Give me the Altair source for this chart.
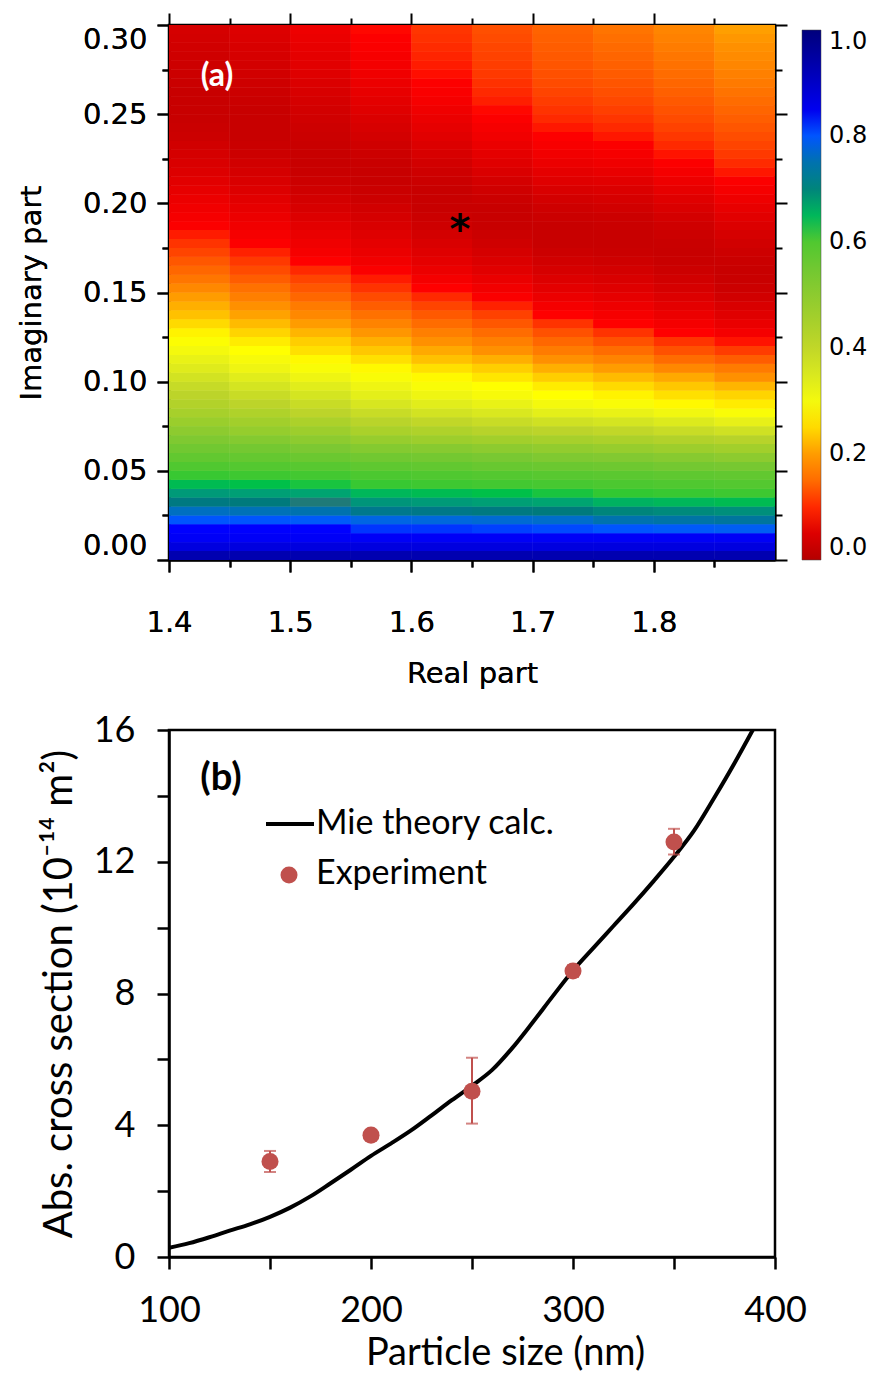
import altair as alt
import pandas as pd

# ---------------- panel (a): absorption map ----------------
real_edges = [1.40, 1.45, 1.50, 1.55, 1.60, 1.65, 1.70, 1.75, 1.80, 1.85, 1.90]
imag_edges = [0.000, 0.005, 0.010, 0.015, 0.020, 0.025, 0.030, 0.035, 0.040, 0.045,
              0.050, 0.055, 0.060, 0.065, 0.070, 0.075, 0.080, 0.085, 0.090, 0.095,
              0.100, 0.105, 0.110, 0.115, 0.120, 0.125, 0.130, 0.135, 0.140, 0.145,
              0.150, 0.155, 0.160, 0.165, 0.170, 0.175, 0.180, 0.185, 0.190, 0.195,
              0.200, 0.205, 0.210, 0.215, 0.220, 0.225, 0.230, 0.235, 0.240, 0.245,
              0.250, 0.255, 0.260, 0.265, 0.270, 0.275, 0.280, 0.285, 0.290, 0.295, 0.300]

# normalised deviation read from the map, one list per real-part column,
# rows from the bottom (k = 0) to the top (k = 0.30) in steps of 0.005
col_140 = [0.93, 0.87, 0.84, 0.83, 0.80, 0.76, 0.72, 0.68, 0.645, 0.625,
           0.60, 0.575, 0.55, 0.525, 0.50, 0.475, 0.45, 0.43, 0.41, 0.39,
           0.365, 0.34, 0.32, 0.30, 0.285, 0.27, 0.25, 0.23, 0.215, 0.20,
           0.18, 0.16, 0.145, 0.13, 0.115, 0.105, 0.095, 0.087, 0.08, 0.074,
           0.068, 0.062, 0.056, 0.05, 0.045, 0.04, 0.035, 0.03, 0.027, 0.025,
           0.024, 0.024, 0.025, 0.027, 0.029, 0.031, 0.033, 0.035, 0.038, 0.04]
col_145 = [0.93, 0.87, 0.84, 0.83, 0.80, 0.755, 0.715, 0.675, 0.64, 0.62,
           0.595, 0.57, 0.545, 0.515, 0.485, 0.46, 0.435, 0.41, 0.385, 0.36,
           0.335, 0.31, 0.295, 0.28, 0.265, 0.245, 0.225, 0.205, 0.19, 0.17,
           0.155, 0.135, 0.12, 0.108, 0.097, 0.088, 0.08, 0.074, 0.068, 0.062,
           0.056, 0.05, 0.045, 0.04, 0.035, 0.03, 0.027, 0.025, 0.024, 0.024,
           0.025, 0.027, 0.029, 0.032, 0.035, 0.038, 0.041, 0.044, 0.047, 0.05]
col_150 = [0.93, 0.87, 0.84, 0.83, 0.795, 0.75, 0.71, 0.67, 0.635, 0.615,
           0.59, 0.56, 0.53, 0.50, 0.47, 0.44, 0.41, 0.385, 0.36, 0.335,
           0.31, 0.29, 0.275, 0.255, 0.24, 0.22, 0.20, 0.18, 0.165, 0.145,
           0.13, 0.115, 0.10, 0.09, 0.08, 0.072, 0.065, 0.057, 0.05, 0.043,
           0.038, 0.033, 0.029, 0.026, 0.025, 0.025, 0.026, 0.028, 0.031, 0.034,
           0.037, 0.04, 0.044, 0.048, 0.052, 0.056, 0.06, 0.063, 0.066, 0.07]
col_155 = [0.93, 0.87, 0.84, 0.82, 0.78, 0.73, 0.685, 0.65, 0.625, 0.605,
           0.58, 0.55, 0.515, 0.48, 0.445, 0.415, 0.385, 0.355, 0.33, 0.31,
           0.29, 0.275, 0.255, 0.235, 0.215, 0.195, 0.175, 0.155, 0.135, 0.12,
           0.105, 0.095, 0.085, 0.075, 0.067, 0.06, 0.052, 0.045, 0.04, 0.035,
           0.03, 0.027, 0.025, 0.025, 0.026, 0.029, 0.033, 0.038, 0.043, 0.048,
           0.053, 0.058, 0.063, 0.068, 0.073, 0.077, 0.081, 0.085, 0.088, 0.091]
col_160 = [0.93, 0.87, 0.84, 0.82, 0.775, 0.725, 0.68, 0.645, 0.62, 0.60,
           0.575, 0.545, 0.51, 0.47, 0.435, 0.40, 0.365, 0.335, 0.31, 0.29,
           0.275, 0.255, 0.23, 0.21, 0.19, 0.17, 0.15, 0.132, 0.115, 0.10,
           0.09, 0.078, 0.068, 0.06, 0.052, 0.045, 0.038, 0.032, 0.028, 0.025,
           0.024, 0.025, 0.028, 0.032, 0.037, 0.043, 0.049, 0.055, 0.061, 0.067,
           0.073, 0.079, 0.084, 0.088, 0.092, 0.095, 0.098, 0.101, 0.104, 0.106]
col_165 = [0.93, 0.87, 0.84, 0.815, 0.77, 0.72, 0.675, 0.64, 0.615, 0.595,
           0.565, 0.535, 0.50, 0.46, 0.42, 0.385, 0.35, 0.32, 0.295, 0.28,
           0.26, 0.24, 0.215, 0.19, 0.17, 0.15, 0.13, 0.113, 0.097, 0.085,
           0.075, 0.065, 0.055, 0.047, 0.04, 0.033, 0.028, 0.025, 0.024, 0.025,
           0.028, 0.033, 0.039, 0.046, 0.053, 0.06, 0.067, 0.074, 0.08, 0.086,
           0.091, 0.096, 0.10, 0.104, 0.108, 0.111, 0.114, 0.117, 0.12, 0.123]
col_170 = [0.93, 0.87, 0.84, 0.81, 0.765, 0.715, 0.67, 0.635, 0.61, 0.59,
           0.56, 0.525, 0.49, 0.45, 0.41, 0.37, 0.33, 0.30, 0.28, 0.265,
           0.24, 0.215, 0.19, 0.165, 0.145, 0.125, 0.105, 0.09, 0.078, 0.068,
           0.058, 0.05, 0.042, 0.035, 0.029, 0.025, 0.024, 0.025, 0.028, 0.032,
           0.038, 0.045, 0.053, 0.06, 0.068, 0.075, 0.082, 0.088, 0.094, 0.10,
           0.105, 0.11, 0.115, 0.12, 0.124, 0.128, 0.132, 0.135, 0.138, 0.141]
col_175 = [0.93, 0.87, 0.84, 0.80, 0.75, 0.70, 0.655, 0.63, 0.605, 0.585,
           0.555, 0.52, 0.48, 0.44, 0.40, 0.36, 0.32, 0.29, 0.27, 0.25,
           0.225, 0.20, 0.175, 0.15, 0.125, 0.105, 0.09, 0.08, 0.07, 0.061,
           0.052, 0.045, 0.038, 0.032, 0.027, 0.025, 0.025, 0.027, 0.03, 0.035,
           0.041, 0.048, 0.056, 0.064, 0.072, 0.08, 0.087, 0.094, 0.10, 0.106,
           0.112, 0.118, 0.123, 0.128, 0.133, 0.138, 0.143, 0.148, 0.153, 0.158]
col_180 = [0.93, 0.87, 0.84, 0.795, 0.745, 0.695, 0.65, 0.625, 0.60, 0.58,
           0.545, 0.51, 0.47, 0.43, 0.385, 0.345, 0.305, 0.275, 0.255, 0.235,
           0.21, 0.18, 0.15, 0.125, 0.105, 0.09, 0.078, 0.068, 0.058, 0.05,
           0.042, 0.036, 0.03, 0.026, 0.025, 0.026, 0.029, 0.033, 0.039, 0.046,
           0.054, 0.062, 0.07, 0.078, 0.086, 0.093, 0.10, 0.107, 0.114, 0.12,
           0.126, 0.132, 0.138, 0.144, 0.150, 0.155, 0.160, 0.166, 0.172, 0.177]
col_185 = [0.93, 0.87, 0.84, 0.79, 0.74, 0.69, 0.645, 0.62, 0.595, 0.575,
           0.54, 0.50, 0.46, 0.42, 0.37, 0.325, 0.29, 0.265, 0.245, 0.22,
           0.19, 0.165, 0.135, 0.11, 0.093, 0.078, 0.065, 0.054, 0.045, 0.036,
           0.03, 0.026, 0.025, 0.027, 0.031, 0.036, 0.042, 0.049, 0.056, 0.063,
           0.071, 0.079, 0.087, 0.094, 0.101, 0.108, 0.115, 0.122, 0.129, 0.136,
           0.143, 0.150, 0.157, 0.164, 0.171, 0.178, 0.184, 0.190, 0.196, 0.202]
map_columns = [col_140, col_145, col_150, col_155, col_160, col_165, col_170, col_175, col_180, col_185]

best_fit_real = [1.64]
best_fit_imag = [0.19]

real_ticks = [1.40, 1.45, 1.50, 1.55, 1.60, 1.65, 1.70, 1.75, 1.80, 1.85]
imag_ticks = [0.0, 0.025, 0.05, 0.075, 0.10, 0.125, 0.15, 0.175, 0.20, 0.225, 0.25, 0.275, 0.30]
cbar_labels = [0.0, 0.2, 0.4, 0.6, 0.8, 1.0]
cmap_stops = [0.0, 0.09, 0.19, 0.28, 0.41, 0.53, 0.63, 0.71, 0.83, 1.0]
cmap_colors = ["#b40000", "#ff0000", "#ff9000", "#ffff00", "#bcd42a", "#7cc832",
               "#32c832", "#1f7a78", "#0000ff", "#00007c"]

# ---------------- panel (b): absorption cross section ----------------
mie_size = [100, 110, 120, 130, 140, 150, 160, 170, 180, 190, 200, 210, 220, 230, 240,
            250, 260, 270, 280, 290, 300, 310, 320, 330, 340, 350, 360, 370, 380, 389]
mie_abs = [0.28, 0.42, 0.60, 0.80, 0.99, 1.22, 1.50, 1.84, 2.24, 2.65, 3.07, 3.45, 3.85, 4.30, 4.76,
           5.20, 5.68, 6.35, 7.12, 7.92, 8.70, 9.38, 10.05, 10.72, 11.42, 12.15, 12.95, 13.95, 15.00, 16.00]
exp_size = [150, 200, 250, 300, 350]
exp_abs = [2.90, 3.70, 5.03, 8.68, 12.60]
exp_lo = [2.58, 3.55, 4.05, 8.50, 12.22]
exp_hi = [3.22, 3.85, 6.05, 8.86, 13.00]
size_ticks = [100, 150, 200, 250, 300, 350, 400]
abs_ticks = [0, 2, 4, 6, 8, 10, 12, 14, 16]

# ---------------- build tables ----------------
cells = []
for i, col in enumerate(map_columns):
    for j, v in enumerate(col):
        cells.append({"x0": real_edges[i], "x1": real_edges[i + 1],
                      "y0": imag_edges[j], "y1": imag_edges[j + 1], "v": v})
map_df = pd.DataFrame(cells)
star_df = pd.DataFrame({"re": best_fit_real, "im": best_fit_imag})
mie_df = pd.DataFrame({"size": mie_size, "abs": mie_abs})
exp_df = pd.DataFrame({"size": exp_size, "abs": exp_abs, "lo": exp_lo, "hi": exp_hi})
one = pd.DataFrame({"k": [0]})

FA = "DejaVu Sans"
FB = "Lato"
RED = "#c0504d"

x_major = "abs(datum.value*10 - round(datum.value*10)) < 0.000001"
y_major = "abs(datum.value*20 - round(datum.value*20)) < 0.000001"


def a_axis(orient, values, major, fmt, labels, title=None):
    kw = dict(orient=orient, values=values, grid=False,
              tickSize={"condition": {"test": major, "value": 12}, "value": 7},
              tickWidth=2, tickColor="black", domainColor="black", domainWidth=2,
              labels=labels, title=title)
    if labels:
        kw.update(labelExpr=f"{major} ? format(datum.value, '{fmt}') : ''",
                  labelFont=FA, labelFontSize=29, labelColor="black",
                  titleFont=FA, titleFontSize=29, titleFontWeight="normal", titleColor="black")
    return alt.Axis(**kw)


ax_bottom = a_axis("bottom", real_ticks, x_major, ".1f", True, "Real part")
ax_bottom["labelPadding"] = 36
ax_bottom["titlePadding"] = 22
ax_bottom["labelFlush"] = False
ax_left = a_axis("left", imag_ticks, y_major, ".2f", True, "Imaginary part")
ax_left["labelPadding"] = 10
ax_left["titlePadding"] = 36
ax_left["labelFlush"] = True
ax_top = a_axis("top", real_ticks, x_major, ".1f", False)
ax_right = a_axis("right", imag_ticks, y_major, ".2f", False)

xs_a = alt.Scale(domain=[1.4, 1.9], nice=False, zero=False)
ys_a = alt.Scale(domain=[0.0, 0.3], nice=False, zero=False)
cscale = alt.Scale(type="linear", domain=cmap_stops, range=cmap_colors)


def cbar():
    return alt.Legend(
        type="gradient", orient="none", legendX=633, legendY=5, direction="vertical",
        gradientLength=530, gradientThickness=19, title=None,
        values=cbar_labels, format=".1f", labelFont=FA, labelFontSize=24,
        labelColor="black", labelOffset=8, labelBaseline="middle", labelOverlap=False,
        gradientStrokeColor="#444", gradientStrokeWidth=0.5)


def heat_layer():
    # drawn twice so that anti-aliased seams between neighbouring cells disappear
    return alt.Chart(map_df).mark_rect(strokeWidth=0).encode(
        x=alt.X("x0:Q", scale=xs_a, axis=ax_bottom),
        x2="x1",
        y=alt.Y("y0:Q", scale=ys_a, axis=ax_left),
        y2="y1",
        color=alt.Color("v:Q", scale=cscale, legend=cbar()),
    )


star = alt.Chart(star_df).mark_text(text="*", font=FA, fontSize=40, fontWeight="bold",
                                    color="black", baseline="alphabetic", dy=22).encode(
    x=alt.X("re:Q", scale=xs_a, axis=ax_top),
    y=alt.Y("im:Q", scale=ys_a, axis=ax_right),
)

label_a = alt.Chart(one).mark_text(text="(a)", font=FB, fontSize=32, fontWeight="bold",
                                   color="white", align="center", baseline="middle").encode(
    x=alt.value(48), y=alt.value(51))

panel_a = alt.layer(heat_layer(), heat_layer(), star, label_a).properties(width=606, height=535)

# ---------------- panel (b) ----------------
xs_b = alt.Scale(domain=[100, 400], nice=False, zero=False)
ys_b = alt.Scale(domain=[0, 16], nice=False, zero=False)


def b_x_axis():
    return alt.Axis(values=size_ticks, grid=False, labelExpr="datum.value % 100 == 0 ? datum.label : ''",
                    tickSize=12, tickWidth=2.5, tickColor="black", domainColor="black", domainWidth=2.5,
                    labelFont=FB, labelFontSize=36, labelColor="black", labelPadding=24, labelFlush=False,
                    title="Particle size (nm)", titleFont=FB, titleFontSize=38, titleFontWeight="normal",
                    titleColor="black", titlePadding=6, titleX=336)


def b_y_axis():
    return alt.Axis(values=abs_ticks, grid=False, labelExpr="datum.value % 4 == 0 ? datum.label : ''",
                    tickSize=12, tickWidth=2.5, tickColor="black", domainColor="black", domainWidth=2.5,
                    labelFont=FB, labelFontSize=36, labelColor="black", labelPadding=22, labelFlush=False,
                    title="Abs. cross section (10\u207b\u00b9\u2074 m\u00b2)", titleFont=FB, titleFontSize=40,
                    titleFontWeight="normal", titleColor="black", titlePadding=14)


def bx(field):
    return alt.X(f"{field}:Q", scale=xs_b, axis=b_x_axis())


def by(field):
    return alt.Y(f"{field}:Q", scale=ys_b, axis=b_y_axis())


mie_line = alt.Chart(mie_df).mark_line(color="black", strokeWidth=4, interpolate="monotone", clip=True).encode(
    x=bx("size"), y=by("abs"))
err = alt.Chart(exp_df).mark_rule(color=RED, strokeWidth=2).encode(
    x=bx("size"), y=by("lo"), y2="hi")
cap_lo = alt.Chart(exp_df).mark_tick(color=RED, thickness=2, size=12, orient="horizontal").encode(
    x=bx("size"), y=by("lo"))
cap_hi = alt.Chart(exp_df).mark_tick(color=RED, thickness=2, size=12, orient="horizontal").encode(
    x=bx("size"), y=by("hi"))
pts = alt.Chart(exp_df).mark_circle(color=RED, size=290, opacity=1).encode(
    x=bx("size"), y=by("abs"))

label_b = alt.Chart(one).mark_text(text="(b)", font=FB, fontSize=38, fontWeight="bold",
                                   color="black", align="center", baseline="middle").encode(
    x=alt.value(52), y=alt.value(49))
leg_line = alt.Chart(one).mark_rule(color="black", strokeWidth=4).encode(
    x=alt.value(97), x2=alt.value(145), y=alt.value(94))
leg_pt = alt.Chart(one).mark_circle(color=RED, size=290, opacity=1).encode(
    x=alt.value(120), y=alt.value(145))
leg_t1 = alt.Chart(one).mark_text(text="Mie theory calc.", font=FB, fontSize=34, color="black",
                                  align="left", baseline="middle").encode(x=alt.value(147), y=alt.value(94))
leg_t2 = alt.Chart(one).mark_text(text="Experiment", font=FB, fontSize=34, color="black",
                                  align="left", baseline="middle").encode(x=alt.value(147), y=alt.value(144))

panel_b = alt.layer(mie_line, err, cap_lo, cap_hi, pts, label_b, leg_line, leg_pt, leg_t1, leg_t2).properties(
    width=606, height=527)

chart = alt.vconcat(panel_a, panel_b, spacing=20).resolve_scale(
    color="independent"
).properties(
    padding={"left": 16, "top": 10, "right": 0, "bottom": 0}, background="white"
).configure_view(stroke="black", strokeWidth=2.5)

chart.save("out.html", embed_options={"renderer": "svg", "actions": False})
